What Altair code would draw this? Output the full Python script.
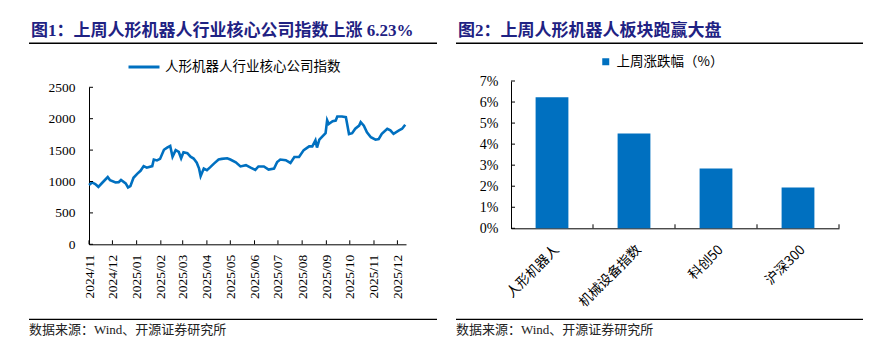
import altair as alt
import pandas as pd

# ---------------- data ----------------
left_title = ["图1：上周人形机器人行业核心公司指数上涨 6.23%"]
right_title = ["图2：上周人形机器人板块跑赢大盘"]
source_note = ["数据来源：Wind、开源证券研究所"]
line_series = "人形机器人行业核心公司指数"
bar_series = "上周涨跌幅（%）"

dates = [
    "2024-11-01", "2024-11-05", "2024-11-09", "2024-11-13", "2024-11-18", "2024-11-25",
    "2024-11-28", "2024-12-05", "2024-12-09", "2024-12-12", "2024-12-18", "2024-12-21",
    "2024-12-24", "2024-12-28", "2025-01-02", "2025-01-06", "2025-01-10", "2025-01-14",
    "2025-01-21", "2025-01-23", "2025-01-27", "2025-01-31", "2025-02-05", "2025-02-09",
    "2025-02-13", "2025-02-16", "2025-02-20", "2025-02-24", "2025-02-27", "2025-03-02",
    "2025-03-07", "2025-03-11", "2025-03-15", "2025-03-19", "2025-03-22", "2025-03-24",
    "2025-03-28", "2025-04-01", "2025-04-05", "2025-04-10", "2025-04-16", "2025-04-20",
    "2025-04-27", "2025-05-01", "2025-05-08", "2025-05-14", "2025-05-21", "2025-05-27",
    "2025-06-02", "2025-06-06", "2025-06-13", "2025-06-19", "2025-06-26", "2025-06-30",
    "2025-07-04", "2025-07-11", "2025-07-17", "2025-07-22", "2025-07-28", "2025-08-03",
    "2025-08-10", "2025-08-14", "2025-08-18", "2025-08-20", "2025-08-23", "2025-08-27",
    "2025-08-31", "2025-09-02", "2025-09-04", "2025-09-09", "2025-09-13", "2025-09-15",
    "2025-09-21", "2025-09-26", "2025-09-30", "2025-10-04", "2025-10-08", "2025-10-13",
    "2025-10-15", "2025-10-19", "2025-10-23", "2025-10-28", "2025-11-03", "2025-11-07",
    "2025-11-11", "2025-11-18", "2025-11-22", "2025-11-26", "2025-12-03", "2025-12-07",
    "2025-12-11",
]
index_values = [
    945, 985, 960, 915, 980, 1070,
    1020, 985, 990, 1025, 970, 905,
    925, 1060, 1125, 1170, 1245, 1220,
    1245, 1350, 1335, 1360, 1505, 1540,
    1565, 1395, 1500, 1470, 1370, 1465,
    1450, 1395, 1365, 1300, 1205, 1085,
    1205, 1180, 1225, 1285, 1350, 1360,
    1370, 1350, 1305, 1240, 1260, 1220,
    1185, 1240, 1240, 1190, 1205, 1310,
    1350, 1340, 1295, 1390, 1390, 1500,
    1560, 1560, 1655, 1540, 1665, 1720,
    1770, 1975, 1915, 1960, 1970, 2035,
    2035, 2025, 1755, 1770, 1840, 1890,
    1945, 1890, 1785, 1705, 1665, 1675,
    1760, 1840, 1815, 1760, 1815, 1840,
    1905,
]
month_ticks = [
    "2024-11-01", "2024-12-01", "2025-01-01", "2025-02-01", "2025-03-01", "2025-04-01",
    "2025-05-01", "2025-06-01", "2025-07-01", "2025-08-01", "2025-09-01", "2025-10-01",
    "2025-11-01", "2025-12-01",
]
date_domain = ["2024-11-01", "2025-12-12"]
index_ticks = [0, 500, 1000, 1500, 2000, 2500]

categories = ["人形机器人", "机械设备指数", "科创50", "沪深300"]
weekly_change = [6.23, 4.50, 2.84, 1.94]
pct_ticks = [0, 1, 2, 3, 4, 5, 6, 7]

# ---------------- style ----------------
BLUE = "#0070C0"
NAVY = "#1F2283"
SERIF = "Liberation Serif, Noto Sans CJK SC"
CJK = "Noto Sans CJK SC"


def dt(s):
    return alt.DateTime(year=int(s[:4]), month=int(s[5:7]), date=int(s[8:10]), utc=True)


LW, LH = 317, 163.3   # left plot area (axis top sits 6.3px below)
LTOP = 6.3
RW, RH = 328, 147.3   # right plot area

line_df = pd.DataFrame({"date": dates, "value": index_values, "series": line_series})
mt_df = pd.DataFrame({"date": month_ticks})
yt_df = pd.DataFrame({"value": index_ticks})

xscale = alt.Scale(type="utc", domain=[dt(d) for d in date_domain])
yscale = alt.Scale(domain=[0, 2500], nice=False, range=[LH, LTOP])

x_axis_l = alt.Axis(values=[dt(d) for d in month_ticks], format="%Y/%m", title=None,
                    labelAngle=-90, ticks=False, labelPadding=10, labelFont=SERIF,
                    labelFontSize=13.5, labelColor="black", domainColor="black",
                    grid=False, labelOverlap=False)
y_axis_l = alt.Axis(values=index_ticks, format="d", title=None, ticks=False, labelPadding=14,
                    labelFont=SERIF, labelFontSize=13.5, labelColor="black",
                    domainColor="black", grid=False)

line = alt.Chart(line_df).mark_line(strokeWidth=2.6).encode(
    x=alt.X("date:T", scale=xscale, axis=x_axis_l),
    y=alt.Y("value:Q", scale=yscale, axis=y_axis_l),
    color=alt.Color("series:N", scale=alt.Scale(range=[BLUE]),
                    legend=alt.Legend(orient="none", legendX=38, legendY=-31, title=None,
                                      symbolType="stroke", symbolSize=961,
                                      symbolStrokeWidth=3, labelFont=CJK, labelFontSize=13.5,
                                      labelColor="black", labelLimit=0, padding=0,
                                      labelOffset=4)),
)
xt = alt.Chart(mt_df).mark_rule(color="black", strokeWidth=1).encode(
    x=alt.X("date:T", scale=xscale, axis=x_axis_l),
    y=alt.value(LH - 4), y2=alt.value(LH),
)
yt = alt.Chart(yt_df).mark_rule(color="black", strokeWidth=1).encode(
    y=alt.Y("value:Q", scale=yscale, axis=y_axis_l),
    x=alt.value(0), x2=alt.value(4),
)


def deco(title_list, tx, ty, ux1, ux2, uy, fy, fty):
    t = alt.Chart(pd.DataFrame({"t": title_list})).mark_text(
        align="left", baseline="alphabetic", font=SERIF, fontSize=17, fontWeight="bold",
        color=NAVY).encode(text="t:N", x=alt.value(tx), y=alt.value(ty))
    u = alt.Chart(pd.DataFrame({"k": [0]})).mark_rule(color="black", strokeWidth=1.6).encode(
        x=alt.value(ux1), x2=alt.value(ux2), y=alt.value(uy))
    f = alt.Chart(pd.DataFrame({"k": [0]})).mark_rule(color="black", strokeWidth=1.2).encode(
        x=alt.value(ux1), x2=alt.value(ux2), y=alt.value(fy))
    ft = alt.Chart(pd.DataFrame({"t": source_note})).mark_text(
        align="left", baseline="alphabetic", font=SERIF, fontSize=13,
        color="#222222").encode(text="t:N", x=alt.value(ux1), y=alt.value(fty))
    return [t, u, f, ft]


left = alt.layer(line, xt, yt,
                 *deco(left_title, -58, -44.7, -60, 348, -37.7, 238.3, 253.3)).properties(
    width=LW, height=LH)

# right
bar_df = pd.DataFrame({"cat": categories, "pct": weekly_change, "series": bar_series})
pt_df = pd.DataFrame({"pct": pct_ticks})
cat_df = pd.DataFrame({"cat": categories})

bxscale = alt.Scale(domain=categories, paddingInner=0.6, paddingOuter=0.3)
byscale = alt.Scale(domain=[0, 7], nice=False)

x_axis_r = alt.Axis(title=None, labelAngle=-45, ticks=False, labelPadding=14,
                    labelAlign="right", labelBaseline="top",
                    labelFont=CJK, labelFontSize=13.5, labelColor="black",
                    domainColor="black", grid=False)
y_axis_r = alt.Axis(values=pct_ticks, title=None, ticks=False, labelPadding=13,
                    labelExpr="datum.value + '%'", labelFont=SERIF, labelFontSize=14,
                    labelColor="black", domainColor="black", grid=False)

bars = alt.Chart(bar_df).mark_bar(color=BLUE).encode(
    x=alt.X("cat:N", sort=categories, scale=bxscale, axis=x_axis_r),
    y=alt.Y("pct:Q", scale=byscale, axis=y_axis_r),
    color=alt.Color("series:N", scale=alt.Scale(range=[BLUE]),
                    legend=alt.Legend(orient="none", legendX=88, legendY=-26, title=None,
                                      symbolType="square", symbolSize=49,
                                      symbolFillColor=BLUE, symbolStrokeWidth=0,
                                      labelFont=CJK, labelFontSize=13.5, labelColor="black",
                                      labelLimit=0, padding=0, labelOffset=4)),
)
bxt = alt.Chart(cat_df).mark_rule(color="black", strokeWidth=1, xOffset=24.6).encode(
    x=alt.X("cat:N", sort=categories, scale=bxscale, bandPosition=1, axis=x_axis_r),
    y=alt.value(RH - 4), y2=alt.value(RH),
)
byt = alt.Chart(pt_df).mark_rule(color="black", strokeWidth=1).encode(
    y=alt.Y("pct:Q", scale=byscale, axis=y_axis_r),
    x=alt.value(0), x2=alt.value(4),
)

right = alt.layer(bars, bxt, byt,
                  *deco(right_title, -53, -44.7, -55, 352, -37.7, 238.3, 253.3)).properties(
    width=RW, height=RH)

chart = alt.hconcat(left, right, spacing=17).resolve_scale(
    color="independent").resolve_legend(color="independent").properties(
    padding={"left": 20, "top": 14, "right": 5, "bottom": 5},
    background="white",
).configure_view(stroke=None)

chart.save("out.html", embed_options={"renderer": "svg", "actions": False})
